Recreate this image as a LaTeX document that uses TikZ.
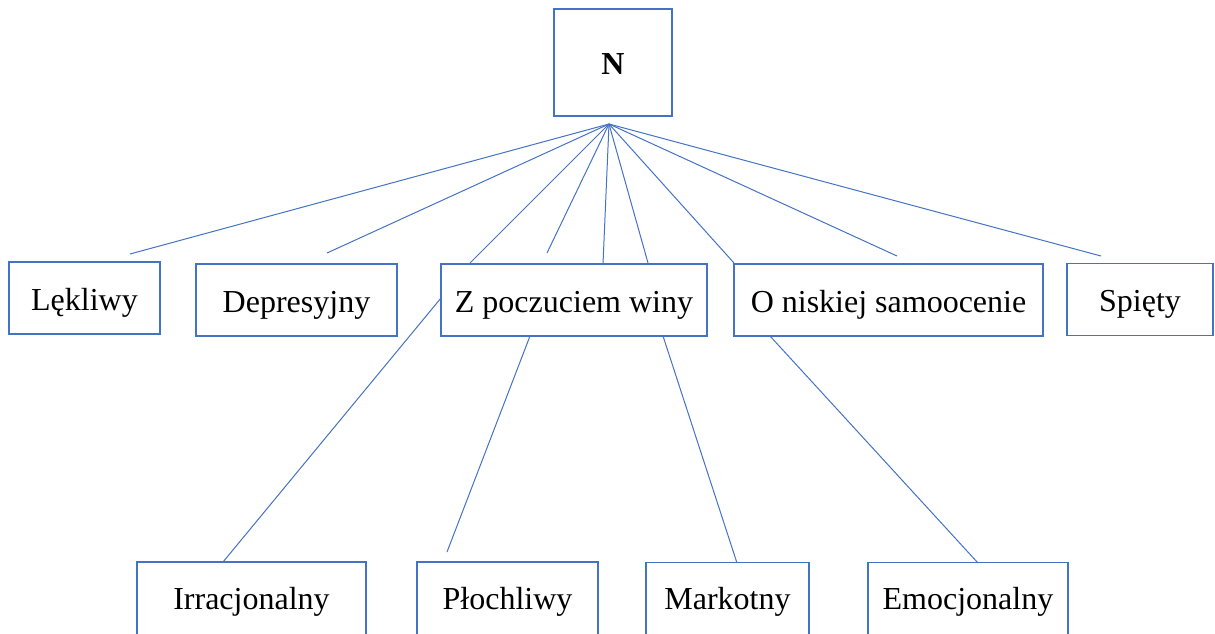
\documentclass[tikz,border=0pt]{standalone}
\usepackage{fontspec}
\setmainfont{Liberation Serif}
\definecolor{boxblue}{RGB}{68,114,196}

\begin{document}
\begin{tikzpicture}[x=0.75pt,y=-0.75pt,
  box/.style={draw=boxblue, line width=0.8pt, inner sep=0pt, minimum height=54pt, text height=23pt, text depth=5pt, font=\fontsize{24}{28}\selectfont},
  lowbox/.style={box, minimum height=57pt, text depth=9.5pt}]
\clip (0,0) rectangle (1215,633);
\node[box, minimum width=88.5pt, minimum height=80.25pt, font=\fontsize{24}{28}\selectfont\bfseries] (1) at (613,62.5) {N};
\node[box, minimum width=113.25pt] (2) at (84.5,298) {Lękliwy};
\node[box, minimum width=150.75pt] (3) at (296.5,300) {Depresyjny};
\node[box, minimum width=199.5pt] (4) at (574,300) {Z poczuciem winy};
\node[box, minimum width=231.75pt] (5) at (888.5,300) {O niskiej samoocenie};
\node[box, minimum width=109.5pt] (6) at (1140,299.5) {Spięty};
\node[lowbox, minimum width=171.75pt] (7) at (251.5,600) {Irracjonalny};
\node[lowbox, minimum width=135.75pt] (8) at (507.5,600) {Płochliwy};
\node[lowbox, minimum width=122.25pt] (9) at (727.5,600.5) {Markotny};
\node[lowbox, minimum width=150pt] (10) at (968,600.5) {Emocjonalny};
\coordinate (h) at (609,124);
\coordinate (h1) at (130,254);
\coordinate (h2) at (327,253);
\coordinate (h3) at (470,263);
\coordinate (h4) at (547,253);
\coordinate (h5) at (603,264);
\coordinate (h6) at (648,263);
\coordinate (h7) at (734,263);
\coordinate (h8) at (897,256);
\coordinate (h9) at (1101,256);
\coordinate (z1) at (441,298);
\coordinate (z2) at (530,336);
\coordinate (z3) at (663,336);
\coordinate (z4) at (770,336);
\coordinate (l1) at (223,562);
\coordinate (l2) at (447,552);
\coordinate (l3) at (737,563);
\coordinate (l4) at (978,563);
\path[draw,boxblue,line width=0.75pt,-] (h) -- (h1);
\path[draw,boxblue,line width=0.75pt,-] (h) -- (h2);
\path[draw,boxblue,line width=0.75pt,-] (h) -- (h3);
\path[draw,boxblue,line width=0.75pt,-] (h) -- (h4);
\path[draw,boxblue,line width=0.75pt,-] (h) -- (h5);
\path[draw,boxblue,line width=0.75pt,-] (h) -- (h6);
\path[draw,boxblue,line width=0.75pt,-] (h) -- (h7);
\path[draw,boxblue,line width=0.75pt,-] (h) -- (h8);
\path[draw,boxblue,line width=0.75pt,-] (h) -- (h9);
\path[draw,boxblue,line width=0.75pt,-] (z1) -- (l1);
\path[draw,boxblue,line width=0.75pt,-] (z2) -- (l2);
\path[draw,boxblue,line width=0.75pt,-] (z3) -- (l3);
\path[draw,boxblue,line width=0.75pt,-] (z4) -- (l4);
\end{tikzpicture}
\end{document}
